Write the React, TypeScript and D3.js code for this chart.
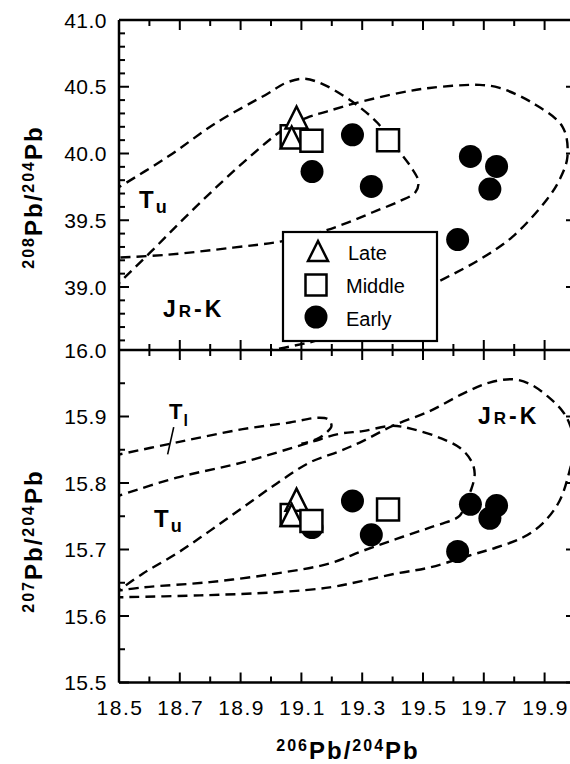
import React from "react";
import * as d3 from "d3";

// ---------- data ----------
const xTickLabels = ["18.5", "18.7", "18.9", "19.1", "19.3", "19.5", "19.7", "19.9"];
const xMajorTicks = [18.5, 18.7, 18.9, 19.1, 19.3, 19.5, 19.7, 19.9];
const topTickLabels = ["41.0", "40.5", "40.0", "39.5", "39.0"];
const topMajorTicks = [41.0, 40.5, 40.0, 39.5, 39.0];
const botTickLabels = ["16.0", "15.9", "15.8", "15.7", "15.6", "15.5"];
const botMajorTicks = [16.0, 15.9, 15.8, 15.7, 15.6, 15.5];

// samples: 206Pb/204Pb, 208Pb/204Pb, 207Pb/204Pb
const lateX = [19.084, 19.068];
const late208 = [40.27, 40.12];
const late207 = [15.775, 15.752];
const middleX = [19.068, 19.133, 19.385];
const middle208 = [40.13, 40.095, 40.1];
const middle207 = [15.752, 15.743, 15.76];
const earlyX = [19.268, 19.135, 19.33, 19.656, 19.742, 19.72, 19.614];
const early208 = [40.14, 39.865, 39.753, 39.978, 39.903, 39.734, 39.355];
const early207 = [15.773, 15.733, 15.722, 15.768, 15.766, 15.747, 15.697];

// field outlines (x, y)
const tuTop: [number, number][] = [
  [18.48, 39.72], [18.66, 39.975], [18.82, 40.23], [18.99, 40.45], [19.05, 40.53], [19.11, 40.56],
  [19.17, 40.52], [19.24, 40.43], [19.29, 40.35], [19.35, 40.23], [19.41, 40.05], [19.46, 39.9],
  [19.485, 39.79], [19.475, 39.71], [19.42, 39.64], [19.335, 39.56], [19.25, 39.48], [19.16, 39.41],
  [19.03, 39.34], [18.875, 39.295], [18.66, 39.242], [18.48, 39.218],
];
const jrkTop: [number, number][] = [
  [18.48, 38.985], [18.602, 39.257], [18.71, 39.504], [18.822, 39.751], [18.93, 39.975], [19.039, 40.177],
  [19.117, 40.267], [19.183, 40.314], [19.281, 40.379], [19.423, 40.454], [19.522, 40.491], [19.686, 40.514],
  [19.752, 40.491], [19.86, 40.379], [19.959, 40.2], [19.975, 39.975], [19.949, 39.803], [19.907, 39.654],
  [19.795, 39.377], [19.686, 39.205], [19.545, 39.033], [19.36, 38.81], [19.18, 38.62], [19.062, 38.554],
  [18.93, 38.5],
];
const tlBot: [number, number][] = [
  [18.48, 15.841], [18.69, 15.861], [18.907, 15.881], [19.062, 15.891], [19.15, 15.898], [19.187, 15.896],
  [19.199, 15.886], [19.183, 15.876], [19.15, 15.866], [19.1, 15.859],
];
const tuBot: [number, number][] = [
  [18.48, 15.778], [18.69, 15.808], [18.907, 15.831], [19.128, 15.861], [19.226, 15.874], [19.302, 15.878],
  [19.4, 15.886], [19.466, 15.881], [19.555, 15.868], [19.621, 15.853], [19.659, 15.833], [19.67, 15.814],
  [19.659, 15.791], [19.64, 15.773], [19.621, 15.751], [19.522, 15.733], [19.413, 15.716], [19.302, 15.698],
  [19.193, 15.679], [19.018, 15.664], [18.799, 15.651], [18.579, 15.643], [18.48, 15.637],
];
const jrkBot: [number, number][] = [
  [18.48, 15.632], [18.579, 15.664], [18.69, 15.694], [18.799, 15.728], [18.907, 15.763], [19.018, 15.799],
  [19.128, 15.831], [19.226, 15.848], [19.302, 15.863], [19.4, 15.886], [19.522, 15.908], [19.63, 15.934],
  [19.719, 15.951], [19.795, 15.956], [19.851, 15.949], [19.916, 15.928], [19.959, 15.908], [19.982, 15.889],
  [19.999, 15.856], [19.982, 15.818], [19.949, 15.773], [19.893, 15.739], [19.828, 15.718], [19.741, 15.703],
  [19.653, 15.691], [19.522, 15.673], [19.413, 15.664], [19.302, 15.653], [19.193, 15.643], [19.029, 15.636],
  [18.766, 15.631], [18.48, 15.628],
];
// Tl leader line
const tlLeader: [number, number][] = [[18.66, 15.843], [18.68, 15.884]];

// ---------- layout ----------
const W = 570, H = 764;
const L = 119, R = 575;
const T1 = 20, SEP = 350, B2 = 682.5;
const FONT = "'Liberation Sans', Arial, Helvetica, sans-serif";

const x = d3.scaleLinear().domain([18.5, 20.0]).range([L, R]);
const yTop = d3.scaleLinear().domain([39, 41]).range([287, T1]);
const yBot = d3.scaleLinear().domain([15.5, 16.0]).range([B2, SEP]);

const triPath = (s: number) => `M0,${-s / 2}L${s / 2},${s / 2}L${-s / 2},${s / 2}Z`;
const sqPath = (s: number) => `M${-s / 2},${-s / 2}h${s}v${s}h${-s}Z`;

function Markers({ y, l, m, e }: { y: d3.ScaleLinear<number, number>; l: number[]; m: number[]; e: number[] }) {
  return (
    <g>
      {earlyX.map((v, i) => (
        <circle key={"e" + i} cx={x(v)} cy={y(e[i])} r={11.5} fill="#000" />
      ))}
      <path d={sqPath(22)} transform={`translate(${x(middleX[0])},${y(m[0])})`} fill="#fff" stroke="#000" strokeWidth={2.5} />
      {lateX.map((v, i) => (
        <path key={"l" + i} d={triPath(22)} transform={`translate(${x(v)},${y(l[i])})`} fill="#fff" stroke="#000" strokeWidth={2.5} strokeLinejoin="miter" />
      ))}
      {middleX.slice(1).map((v, i) => (
        <path key={"m" + i} d={sqPath(22)} transform={`translate(${x(v)},${y(m[i + 1])})`} fill="#fff" stroke="#000" strokeWidth={2.5} />
      ))}
    </g>
  );
}

function Ticks({ y, y0, y1, yMinor, yMajor }: any) {
  const xMinor = d3.range(18.6, 20.0, 0.2);
  const out: JSX.Element[] = [];
  xMajorTicks.forEach((v, i) => {
    out.push(<line key={"xt" + i} x1={x(v)} x2={x(v)} y1={y0} y2={y0 + 10} />);
    out.push(<line key={"xb" + i} x1={x(v)} x2={x(v)} y1={y1} y2={y1 - 10} />);
  });
  xMinor.forEach((v, i) => {
    out.push(<line key={"xmt" + i} x1={x(v)} x2={x(v)} y1={y0} y2={y0 + 6} />);
    out.push(<line key={"xmb" + i} x1={x(v)} x2={x(v)} y1={y1} y2={y1 - 6} />);
  });
  yMajor.forEach((v: number, i: number) => {
    out.push(<line key={"yl" + i} x1={L} x2={L + 10} y1={y(v)} y2={y(v)} />);
    out.push(<line key={"yr" + i} x1={R} x2={R - 9} y1={y(v)} y2={y(v)} />);
  });
  yMinor.forEach((v: number, i: number) => {
    out.push(<line key={"yml" + i} x1={L} x2={L + 6} y1={y(v)} y2={y(v)} />);
  });
  return <g stroke="#000" strokeWidth={2}>{out}</g>;
}

export default function App() {
  const lineTop = d3.line<[number, number]>().x((d) => x(d[0])).y((d) => yTop(d[1])).curve(d3.curveCatmullRom.alpha(0.5));
  const lineBot = d3.line<[number, number]>().x((d) => x(d[0])).y((d) => yBot(d[1])).curve(d3.curveCatmullRom.alpha(0.5));
  const dash = { fill: "none", stroke: "#000", strokeWidth: 2.4, strokeDasharray: "10,6" };

  const topMinor = d3.range(38.6, 41.0, 0.1).filter((v) => Math.abs(v * 2 - Math.round(v * 2)) > 0.05);
  const botMinor = d3.range(15.55, 16.0, 0.1);

  const legX = 283, legY = 232, legW = 154, legH = 109;

  return (
    <svg width={W} height={H} style={{ position: "absolute", left: 0, top: 0, background: "#fff" }} fontFamily={FONT}>
      <defs>
        <clipPath id="clipTop"><rect x={L} y={T1} width={R - L} height={SEP - T1} /></clipPath>
        <clipPath id="clipBot"><rect x={L} y={SEP} width={R - L} height={B2 - SEP} /></clipPath>
      </defs>
      <rect width={W} height={H} fill="#fff" />

      <g clipPath="url(#clipTop)">
        <path d={lineTop(tuTop) || ""} {...dash} />
        <path d={lineTop(jrkTop) || ""} {...dash} />
      </g>
      <g clipPath="url(#clipBot)">
        <path d={lineBot(tlBot) || ""} {...dash} />
        <path d={lineBot(tuBot) || ""} {...dash} />
        <path d={lineBot(jrkBot) || ""} {...dash} />
        <path d={d3.line<[number, number]>().x((d) => x(d[0])).y((d) => yBot(d[1]))(tlLeader) || ""} stroke="#000" strokeWidth={1.6} fill="none" />
      </g>

      <g clipPath="url(#clipTop)">
        <Markers y={yTop} l={late208} m={middle208} e={early208} />
      </g>
      <g clipPath="url(#clipBot)">
        <Markers y={yBot} l={late207} m={middle207} e={early207} />
      </g>

      <g>
        <rect x={legX} y={legY} width={legW} height={legH} fill="#fff" stroke="#000" strokeWidth={2.2} />
        <path d={triPath(20)} transform={`translate(${legX + 35},${legY + 19})`} fill="#fff" stroke="#000" strokeWidth={2.5} />
        <text x={legX + 65} y={legY + 28} fontSize={20}>Late</text>
        <path d={sqPath(21)} transform={`translate(${legX + 33},${legY + 53})`} fill="#fff" stroke="#000" strokeWidth={2.5} />
        <text x={legX + 63} y={legY + 61} fontSize={20}>Middle</text>
        <circle cx={legX + 33} cy={legY + 85} r={11.5} fill="#000" />
        <text x={legX + 63} y={legY + 94} fontSize={20}>Early</text>
      </g>

      <g fontWeight="bold" fill="#000">
        <text x={139} y={208} fontSize={24}>T<tspan fontSize={18} dx={2} dy={5}>u</tspan></text>
        <text x={163} y={317} fontSize={23} letterSpacing={3}>J<tspan fontSize={17}>R</tspan>-K</text>
        <text x={169} y={419} fontSize={22}>T<tspan fontSize={16} dx={1} dy={7}>l</tspan></text>
        <text x={154} y={527} fontSize={24}>T<tspan fontSize={18} dx={2} dy={5}>u</tspan></text>
        <text x={478} y={424} fontSize={23} letterSpacing={3}>J<tspan fontSize={17}>R</tspan>-K</text>
      </g>

      <g stroke="#000" strokeWidth={2.5} fill="none">
        <line x1={L} x2={L} y1={T1} y2={B2} />
        <line x1={L} x2={R} y1={T1} y2={T1} />
        <line x1={L} x2={R} y1={SEP} y2={SEP} />
        <line x1={L} x2={R} y1={B2} y2={B2} />
      </g>
      <Ticks y={yTop} y0={T1} y1={SEP} yMinor={topMinor} yMajor={topMajorTicks} />
      <Ticks y={yBot} y0={SEP} y1={B2} yMinor={botMinor} yMajor={botMajorTicks} />

      <g fontSize={21} textAnchor="end" fill="#000">
        {topMajorTicks.map((v, i) => (
          <text key={"tl" + i} x={107} y={yTop(v) + 7.5} letterSpacing={0.5}>{topTickLabels[i]}</text>
        ))}
        {botMajorTicks.map((v, i) => (
          <text key={"bl" + i} x={107} y={yBot(v) + 7.5} letterSpacing={0.5}>{botTickLabels[i]}</text>
        ))}
      </g>
      <g fontSize={21} textAnchor="middle" fill="#000">
        {xMajorTicks.map((v, i) => (
          <text key={"xl" + i} x={x(v) + 1} y={715} letterSpacing={1.5}>{xTickLabels[i]}</text>
        ))}
      </g>

      <g fontWeight="bold" fill="#000" textAnchor="middle">
        <text transform="translate(42,197) rotate(-90)" fontSize={24} letterSpacing={2}>
          <tspan fontSize={16} dy={-8}>208</tspan><tspan dy={8}>Pb/</tspan><tspan fontSize={16} dy={-8}>204</tspan><tspan dy={8}>Pb</tspan>
        </text>
        <text transform="translate(42,541) rotate(-90)" fontSize={24} letterSpacing={2}>
          <tspan fontSize={16} dy={-8}>207</tspan><tspan dy={8}>Pb/</tspan><tspan fontSize={16} dy={-8}>204</tspan><tspan dy={8}>Pb</tspan>
        </text>
        <text x={348} y={759} fontSize={24} letterSpacing={2}>
          <tspan fontSize={16} dy={-8}>206</tspan><tspan dy={8}>Pb/</tspan><tspan fontSize={16} dy={-8}>204</tspan><tspan dy={8}>Pb</tspan>
        </text>
      </g>
    </svg>
  );
}
